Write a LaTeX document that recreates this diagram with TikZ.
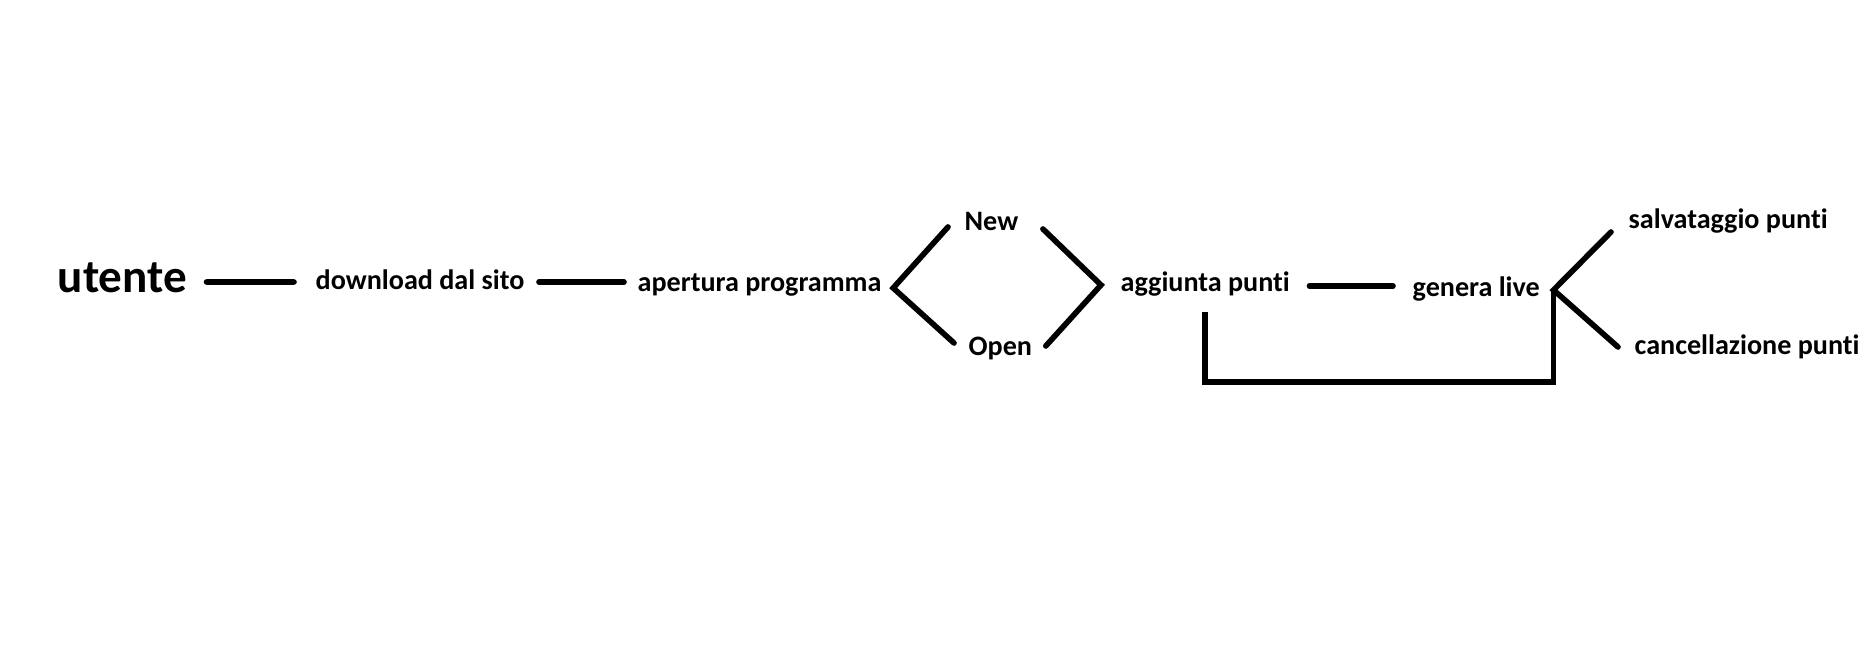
\documentclass[tikz,border=0pt]{standalone}
\usepackage{fontspec}
\setmainfont{Carlito}[Ligatures={NoCommon,NoContextual}]
\usepackage{tikz}

\begin{document}
\begin{tikzpicture}[x=0.01cm, y=-0.01cm,
    lbl/.style={anchor=base west, inner sep=0pt, text height=0.16cm, text depth=0pt,
                font=\fontsize{8}{10}\selectfont\bfseries},
    wire/.style={ultra thick, line cap=round}]
  \fill[white] (0,0) rectangle (1862,670);

  \node[lbl, text height=0.22cm, font=\fontsize{13.4}{16}\selectfont\bfseries] (utente) at (57,293) {utente};
  \node[lbl] (download) at (315,290) {download dal sito};
  \node[lbl] (apertura) at (637,292) {apertura programma};
  \node[lbl] (new) at (964,231) {New};
  \node[lbl] (open) at (968,356) {Open};
  \node[lbl] (aggiunta) at (1120,292) {aggiunta punti};
  \node[lbl] (genera) at (1412,297) {genera live};
  \node[lbl] (salva) at (1628,229) {salvataggio punti};
  \node[lbl] (cancella) at (1634,355) {cancellazione punti};

  \coordinate (fork1) at ([shift={(11,4)}]apertura.east);
  \coordinate (fork2) at ([shift={(-19,1)}]aggiunta.west);
  \coordinate (fork3) at ([shift={(13,1)}]genera.east);

  \draw[wire] ([shift={(19,0)}]utente.east) -- ([shift={(-21,0)}]download.west);
  \draw[wire] ([shift={(14,0)}]download.east) -- ([shift={(-13,-2)}]apertura.west);

  % New / Open
  \draw[wire] ([shift={(-16,4)}]new.west) -- (fork1) -- ([shift={(-14,-5)}]open.west);
  \draw[wire] ([shift={(24,6)}]new.east) -- (fork2) -- ([shift={(13,-2)}]open.east);

  \draw[wire] ([shift={(19,2)}]aggiunta.east) -- ([shift={(-19,-3)}]genera.west);
  \draw[wire] ([shift={(-17,11)}]salva.west) -- (fork3) -- ([shift={(-16,0)}]cancella.west);

  % ritorno
  \draw[wire, line cap=butt] ([shift={(0,19)}]aggiunta.south) -- ++(0,70) -| (fork3);
\end{tikzpicture}
\end{document}
